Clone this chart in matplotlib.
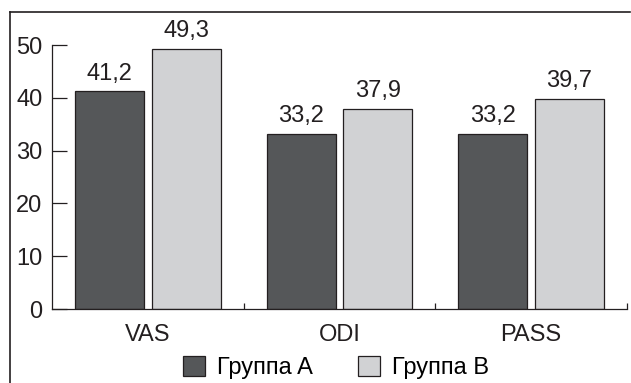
import matplotlib
matplotlib.use("Agg")
import matplotlib.pyplot as plt
from matplotlib.patches import Patch
from matplotlib.lines import Line2D
import numpy as np

plt.rcParams['font.family'] = ['Liberation Sans', 'DejaVu Sans']

categories = ["VAS", "ODI", "PASS"]
group_a = [41.2, 33.2, 33.2]
group_b = [49.3, 37.9, 39.7]
series_names = ["Группа A", "Группа B"]
y_ticks = [0, 10, 20, 30, 40, 50]

color_a = "#555759"
color_b = "#d1d2d4"
edge = "#231f20"
fs = 17

fig = plt.figure(figsize=(6.31, 3.83), dpi=100)
ax = fig.add_axes([52 / 631, 1 - 309 / 383, (627 - 52) / 631, (309 - 45) / 383])

x = np.arange(len(categories))
w = 0.36
off = 0.2
bars_a = ax.bar(x - off, group_a, w, color=color_a, edgecolor=edge, linewidth=0.9)
bars_b = ax.bar(x + off, group_b, w, color=color_b, edgecolor=edge, linewidth=0.9)

def fmt(v):
    return f"{v:.1f}".replace(".", ",")

for bars, vals in ((bars_a, group_a), (bars_b, group_b)):
    for b, v in zip(bars, vals):
        ax.annotate(fmt(v), (b.get_x() + b.get_width() / 2, v),
                    xytext=(0, 5), textcoords="offset points",
                    ha="center", va="bottom", fontsize=fs, color="#231f20",
                    annotation_clip=False)

ax.set_xlim(-0.5, 2.5)
ax.set_ylim(0, 50)
ax.set_yticks(y_ticks)
ax.set_yticklabels([str(t) for t in y_ticks], fontsize=fs, color="#231f20")
ax.set_xticks(x)
ax.set_xticklabels(categories, fontsize=fs, color="#231f20")
ax.set_xticks([0.5, 1.5, 2.5], minor=True)
ax.tick_params(axis="x", which="major", length=0, pad=11)
ax.tick_params(axis="x", which="minor", direction="in", length=4.5, width=0.9, color=edge)
ax.tick_params(axis="y", direction="in", length=10.5, width=0.9, pad=7, color=edge)

for s in ("top", "right"):
    ax.spines[s].set_visible(False)
for s in ("left", "bottom"):
    ax.spines[s].set_linewidth(0.9)
    ax.spines[s].set_color(edge)

# outer frame (open at the bottom)
fx0, fy1, fx1 = 9.5 / 631, 1 - 12 / 383, 630 / 631
fig.add_artist(Line2D([fx0, fx0], [0, fy1], transform=fig.transFigure, color=edge, lw=1.2))
fig.add_artist(Line2D([fx0, fx1], [fy1, fy1], transform=fig.transFigure, color=edge, lw=1.2))

handles = [Patch(facecolor=color_a, edgecolor=edge, linewidth=0.9),
           Patch(facecolor=color_b, edgecolor=edge, linewidth=0.9)]
fig.legend(handles, series_names, loc="center", bbox_to_anchor=(0.532, 0.04),
           ncol=2, frameon=False, fontsize=fs, handlelength=0.95, handleheight=0.95,
           handletextpad=0.5, columnspacing=1.9, borderpad=0, borderaxespad=0)

fig.savefig("out.png", dpi=100)
